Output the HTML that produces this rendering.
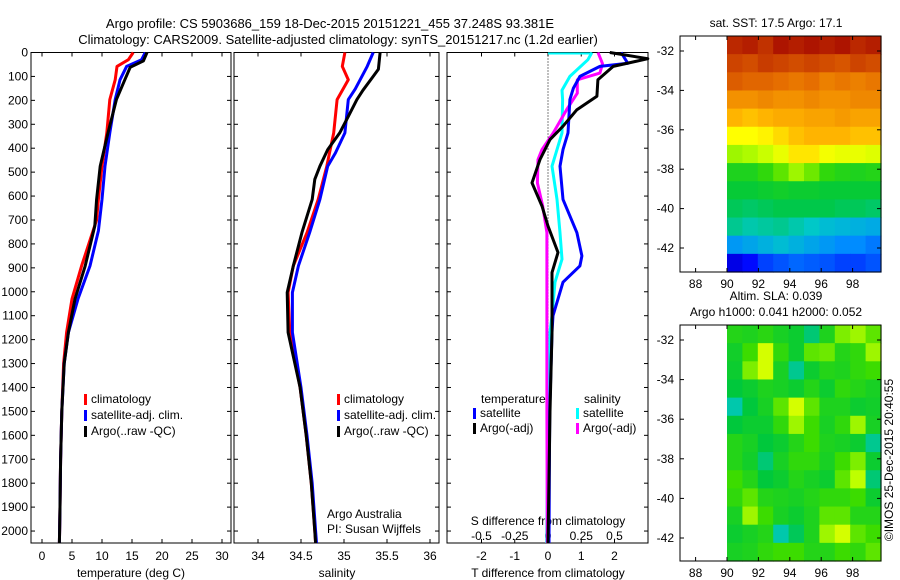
<!DOCTYPE html>
<html><head><meta charset="utf-8"><style>
body{margin:0;background:#fff}
svg{display:block;font-family:"Liberation Sans",sans-serif}
</style></head><body>
<svg id="fig" width="900" height="580" viewBox="0 0 900 580">
<text x="330" y="28" font-size="13" text-anchor="middle">Argo profile: CS 5903686_159 18-Dec-2015 20151221_455 37.248S 93.381E</text>
<text x="338" y="44" font-size="13" text-anchor="middle">Climatology: CARS2009. Satellite-adjusted climatology: synTS_20151217.nc (1.2d earlier)</text>
<g id="p1"></g>
<g id="p2"></g>
<g id="p3"></g>
<g id="m1"></g>
<g id="m2"></g>
<text x="776" y="27" font-size="12" text-anchor="middle">sat. SST: 17.5 Argo: 17.1</text>
<text x="776" y="300" font-size="12" text-anchor="middle">Altim. SLA: 0.039</text>
<text x="776" y="316" font-size="12" text-anchor="middle">Argo h1000: 0.041 h2000: 0.052</text>
<text transform="translate(893,460) rotate(-90)" font-size="12" text-anchor="middle">©IMOS 25-Dec-2015 20:40:55</text>
</svg>
<script>
const NS="http://www.w3.org/2000/svg";
// ---- data ----
const depthTick=[0,100,200,300,400,500,600,700,800,900,1000,1100,1200,1300,1400,1500,1600,1700,1800,1900,2000];
const tTicks=[0,5,10,15,20,25,30];
const sTicks=[34,34.5,35,35.5,36];
const dTTicks=[-2,-1,0,1,2];
const dSTicks=[-0.5,-0.25,0,0.25,0.5];
const dSTickLabels=["-0.5","-0.25","0","0.25","0.5"];
const tClimD=[0,30,58,114,197,336,475,614,700,892,1030,1170,1300,1500,1700,1900,2050];
const tClim=[15.2,14.4,12.5,12.2,11.3,10.8,10.0,9.4,9.1,6.6,5.0,4.1,3.6,3.3,3.1,3.0,2.9];
const tSatD=[0,30,58,114,197,336,475,614,745,892,1030,1170,1300,1500,1700,1900,2050];
const tSat=[17.2,16.6,14.1,13.0,12.2,11.3,10.5,10.0,9.4,8.0,6.0,4.4,3.7,3.3,3.1,3.0,2.9];
const tArgoD=[0,35,62,114,197,336,475,614,725,892,1030,1170,1300,1500,1700,1900,2050];
const tArgo=[17.5,16.9,14.7,13.8,12.4,11.0,9.7,9.1,8.8,7.2,5.5,4.4,3.7,3.3,3.1,3.0,2.9];
const sClimD=[0,58,114,197,336,406,475,614,753,892,1003,1170,1400,1600,1800,2000,2050];
const sClim=[35.01,34.98,35.05,34.92,34.88,34.84,34.80,34.70,34.57,34.41,34.35,34.37,34.49,34.56,34.62,34.66,34.67];
const sSatD=[0,58,153,197,336,420,475,614,753,892,1003,1170,1400,1600,1800,2000,2050];
const sSat=[35.34,35.27,35.13,35.05,35.01,34.90,34.81,34.72,34.60,34.47,34.40,34.40,34.50,34.57,34.63,34.67,34.68];
const sArgoD=[0,70,100,158,197,267,336,406,475,530,614,753,892,1003,1170,1400,1600,1800,2000,2050];
const sArgo=[35.42,35.40,35.34,35.22,35.15,35.05,34.95,34.81,34.72,34.66,34.63,34.51,34.41,34.34,34.35,34.49,34.56,34.62,34.66,34.67];
const dTSatD=[0,45,58,100,150,197,336,406,475,614,753,850,892,960,1030,1100,1170,1500,2050];
const dTSat=[2.2,2.4,1.56,0.96,0.76,0.66,0.6,0.45,0.36,0.45,0.87,1.02,0.96,0.45,0.3,0.15,0.12,0.05,0.03];
const dTArgoD=[0,26,58,114,183,239,308,364,447,545,642,725,836,920,1170,1500,2050];
const dTArgo=[1.86,3.0,1.96,1.5,1.47,0.87,0.45,0.06,-0.24,-0.48,-0.18,0.0,0.3,0.12,0.12,0.06,0.0];
const dSSatD=[0,30,100,158,197,336,406,475,614,753,864,960,1100,1170,1500,2050];
const dSSat=[0.33,0.3,0.165,0.105,0.11,0.105,0.068,0.03,0.068,0.09,0.105,0.053,0.03,0.015,0.0,-0.01];
const dSArgoD=[0,47,86,114,170,239,336,406,447,545,642,753,1000,1500,2050];
const dSArgo=[0.376,0.41,0.39,0.22,0.22,0.14,0.04,-0.045,-0.075,-0.08,-0.04,-0.008,-0.008,-0.008,-0.005];
const lonTicks=[88,90,92,94,96,98];
const latTicks=[-32,-34,-36,-38,-40,-42];
const sstGrid=[
[0.96,0.97,0.95,0.98,0.97,0.98,0.97,0.98,0.96,0.97],
[0.93,0.92,0.94,0.93,0.92,0.93,0.92,0.91,0.93,0.92],
[0.90,0.89,0.89,0.88,0.87,0.88,0.86,0.87,0.86,0.87],
[0.84,0.84,0.85,0.84,0.84,0.85,0.84,0.84,0.85,0.85],
[0.80,0.79,0.80,0.81,0.81,0.82,0.82,0.83,0.82,0.82],
[0.74,0.74,0.75,0.77,0.79,0.80,0.80,0.80,0.79,0.79],
[0.66,0.67,0.69,0.72,0.76,0.76,0.73,0.72,0.72,0.71],
[0.55,0.55,0.58,0.62,0.66,0.63,0.58,0.56,0.55,0.56],
[0.51,0.51,0.52,0.53,0.52,0.52,0.51,0.51,0.51,0.51],
[0.48,0.47,0.48,0.49,0.49,0.49,0.49,0.48,0.48,0.47],
[0.44,0.42,0.43,0.44,0.42,0.40,0.38,0.37,0.36,0.35],
[0.32,0.34,0.36,0.38,0.36,0.34,0.32,0.30,0.30,0.28],
[0.12,0.16,0.22,0.24,0.26,0.25,0.24,0.22,0.22,0.24]];
const slaGrid=[
[0.56,0.55,0.57,0.54,0.52,0.46,0.55,0.64,0.66,0.62],
[0.53,0.60,0.70,0.58,0.52,0.62,0.63,0.56,0.58,0.66],
[0.52,0.64,0.70,0.54,0.44,0.52,0.56,0.55,0.58,0.60],
[0.50,0.52,0.55,0.54,0.52,0.56,0.52,0.58,0.56,0.54],
[0.42,0.50,0.54,0.62,0.70,0.62,0.55,0.55,0.52,0.53],
[0.50,0.52,0.52,0.58,0.66,0.60,0.54,0.58,0.66,0.54],
[0.56,0.54,0.50,0.52,0.56,0.60,0.55,0.54,0.52,0.44],
[0.56,0.53,0.46,0.54,0.58,0.58,0.54,0.60,0.64,0.52],
[0.60,0.56,0.50,0.52,0.56,0.54,0.52,0.62,0.68,0.46],
[0.58,0.62,0.56,0.55,0.54,0.56,0.58,0.58,0.60,0.52],
[0.54,0.66,0.60,0.54,0.52,0.55,0.62,0.62,0.56,0.56],
[0.52,0.54,0.56,0.42,0.48,0.55,0.66,0.70,0.62,0.60],
[0.54,0.55,0.58,0.60,0.60,0.56,0.56,0.60,0.58,0.62]];
// ---- helpers ----
function mk(tag,attrs,parent){const e=document.createElementNS(NS,tag);for(const k in attrs)e.setAttribute(k,attrs[k]);parent.appendChild(e);return e;}
function txt(s,x,y,anchor,parent,size){const e=mk("text",{x:x,y:y,"text-anchor":anchor,"font-size":size||12},parent);e.textContent=s;return e;}
const PT=52.5,PB=543;
const yD=d=>PT+(d/2050)*(PB-PT);
function frame(g,x0,x1,y0,y1){
  const r=mk("rect",{x:x0,y:y0,width:x1-x0,height:y1-y0,fill:"none",stroke:"#000","stroke-width":1},g);
  
  
}
function line(g,xs,ds,xf,color,name){
  const pts=xs.map((v,i)=>xf(v).toFixed(1)+","+yD(ds[i]).toFixed(1)).join(" ");
  const p=mk("polyline",{points:pts,fill:"none",stroke:color,"stroke-width":3,"stroke-linejoin":"round"},g);
  
  
}
function yticks(g,x0,x1,labels){
  depthTick.forEach(d=>{const y=yD(d);
    mk("line",{x1:x0,y1:y,x2:x0+4,y2:y,stroke:"#000"},g);
    mk("line",{x1:x1,y1:y,x2:x1-4,y2:y,stroke:"#000"},g);
    if(labels){const t=txt(String(d),x0-3,y+4,"end",g);
      
      }
  });
}
function xticks(g,ticks,xf,labels,ly){
  ticks.forEach((v,i)=>{const x=xf(v);
    mk("line",{x1:x,y1:PB,x2:x,y2:PB-4,stroke:"#000"},g);
    mk("line",{x1:x,y1:PT,x2:x,y2:PT+4,stroke:"#000"},g);
    const t=txt(labels?labels[i]:String(v),x,ly,"middle",g);
    
    
  });
}
function legend(g,x,y,color,label){
  const r=mk("rect",{x:x,y:y-9,width:3,height:11,fill:color},g);
  
  
  const t=txt(label,x+7,y,"start",g);
  
  
}
// ---- panel 1 ----
const g1=document.getElementById("p1");
const xT=v=>42+6*v;
frame(g1,31,231,PT,PB);yticks(g1,31,231,true);xticks(g1,tTicks,xT,null,560);
line(g1,tClim,tClimD,xT,"#f00","temp-climatology-line");
line(g1,tSat,tSatD,xT,"#00f","temp-satellite-line");
line(g1,tArgo,tArgoD,xT,"#000","temp-argo-line");
legend(g1,84,403,"#f00","climatology");legend(g1,84,419,"#00f","satellite-adj. clim.");legend(g1,84,435,"#000","Argo(..raw -QC)");
txt("temperature (deg C)",131,577,"middle",g1);
// ---- panel 2 ----
const g2=document.getElementById("p2");
const xS=v=>258+86*(v-34);
frame(g2,234,439,PT,PB);yticks(g2,234,439,false);xticks(g2,sTicks,xS,null,560);
line(g2,sClim,sClimD,xS,"#f00","sal-climatology-line");
line(g2,sSat,sSatD,xS,"#00f","sal-satellite-line");
line(g2,sArgo,sArgoD,xS,"#000","sal-argo-line");
legend(g2,337,403,"#f00","climatology");legend(g2,337,419,"#00f","satellite-adj. clim.");legend(g2,337,435,"#000","Argo(..raw -QC)");
txt("Argo Australia",327,518,"start",g2);
txt("PI: Susan Wijffels",327,533,"start",g2);
txt("salinity",337,577,"middle",g2);
// ---- panel 3 ----
const g3=document.getElementById("p3");
const xDT=v=>548+33.25*v;
const xDS=v=>548+133*v;
frame(g3,447,648,PT,PB);yticks(g3,447,648,false);xticks(g3,dTTicks,xDT,null,560);
mk("line",{x1:548,y1:PT,x2:548,y2:PB,stroke:"#000","stroke-dasharray":"1,2"},g3);
dSTicks.forEach((v,i)=>{const t=txt(dSTickLabels[i],xDS(v),540,"middle",g3);});
txt("S difference from climatology",548,525,"middle",g3);
mk("line",{x1:548,y1:PT+1,x2:xDS(dSSat[0]),y2:PT+1,stroke:"#0ff","stroke-width":2},g3);
line(g3,dSSat,dSSatD,xDS,"#0ff","sdiff-satellite-line");
line(g3,dSArgo,dSArgoD,xDS,"#f0f","sdiff-argo-line");
line(g3,dTSat,dTSatD,xDT,"#00f","tdiff-satellite-line");
line(g3,dTArgo,dTArgoD,xDT,"#000","tdiff-argo-line");
txt("temperature",481,403,"start",g3);txt("salinity",584,403,"start",g3);
legend(g3,473,417,"#00f","satellite");legend(g3,473,432,"#000","Argo(-adj)");
legend(g3,576,417,"#0ff","satellite");legend(g3,576,432,"#f0f","Argo(-adj)");
txt("T difference from climatology",548,577,"middle",g3);
// ---- maps ----
const stops=[[0,[0,0,128]],[0.15,[0,0,255]],[0.3,[0,140,255]],[0.4,[0,200,200]],[0.5,[0,200,60]],[0.6,[60,220,0]],[0.68,[190,255,0]],[0.74,[255,255,0]],[0.8,[255,180,0]],[0.88,[230,110,0]],[0.94,[200,60,0]],[1,[160,0,0]]];
function cmap(v){for(let i=1;i<stops.length;i++){if(v<=stops[i][0]){const a=stops[i-1],b=stops[i];const f=(v-a[0])/(b[0]-a[0]);const c=a[1].map((x,k)=>Math.round(x+(b[1][k]-x)*f));return "rgb("+c+")";}}return "rgb(160,0,0)";}
function map(id,grid,top,bot,lat32,lat42,name){
  const g=document.getElementById(id);
  const L=680,R=881;
  const xL=lon=>727+(lon-90)*15.7;
  const yL=lat=>lat32+(lat+32)/(-10)*(lat42-lat32);
  const rows=grid.length,cols=grid[0].length;
  const x0=xL(90),x1=R,cw=(x1-x0)/cols,ch=(bot-top)/rows;
  grid.forEach((row,r)=>row.forEach((v,c)=>{
    const e=mk("rect",{x:(x0+c*cw).toFixed(2),y:(top+r*ch).toFixed(2),width:(cw+0.6).toFixed(2),height:(ch+0.6).toFixed(2),fill:cmap(v)},g);
    
    
  }));
  frame(g,L,R,top,bot);
  lonTicks.forEach(l=>{const x=xL(l);mk("line",{x1:x,y1:bot,x2:x,y2:bot-4,stroke:"#000"},g);mk("line",{x1:x,y1:top,x2:x,y2:top+4,stroke:"#000"},g);
    const t=txt(String(l),x,bot+16,"middle",g);});
  latTicks.forEach(l=>{const y=yL(l);mk("line",{x1:L,y1:y,x2:L+4,y2:y,stroke:"#000"},g);mk("line",{x1:R,y1:y,x2:R-4,y2:y,stroke:"#000"},g);
    const t=txt(String(l),L-6,y+4,"end",g);});
}
map("m1",sstGrid,36,272,51,248,"sst");
map("m2",slaGrid,325,561,340,538,"sla");
</script>
</body></html>
